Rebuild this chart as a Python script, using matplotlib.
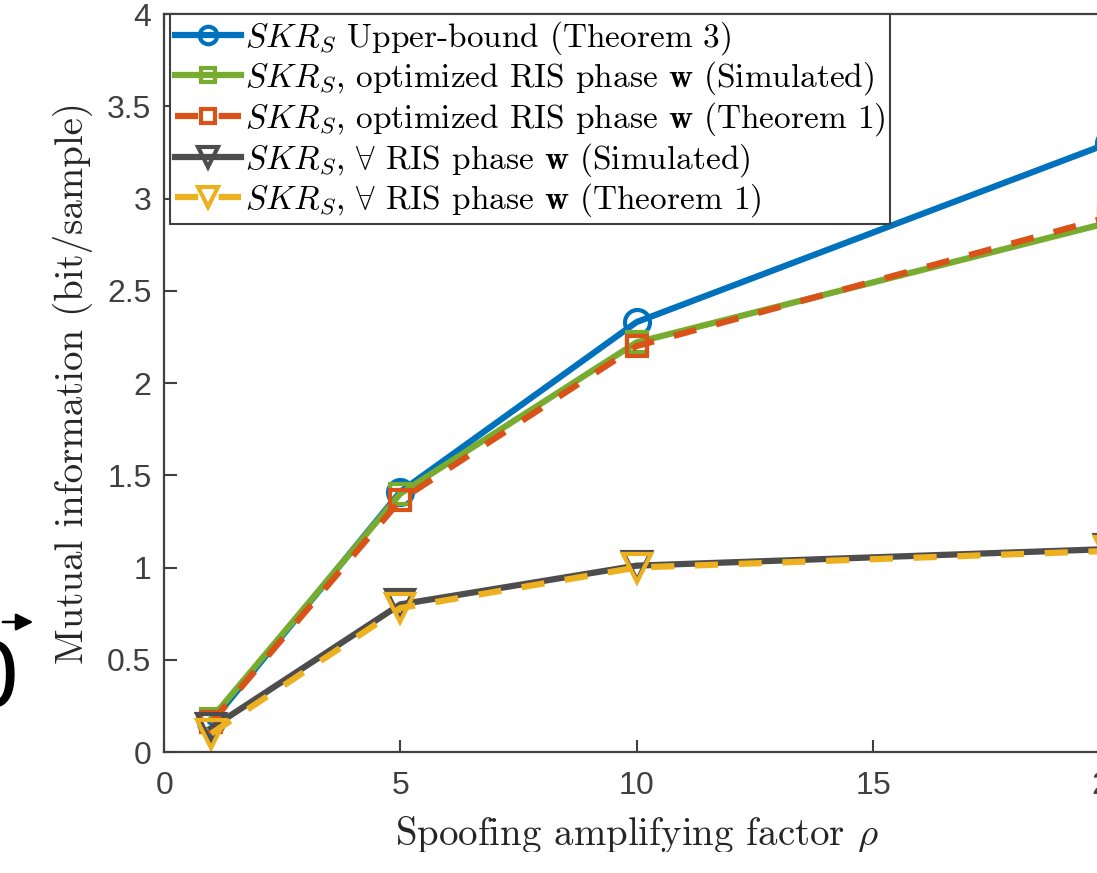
import numpy as np
import matplotlib
matplotlib.use('Agg')
import matplotlib.pyplot as plt

plt.rcParams['mathtext.fontset'] = 'cm'
plt.rcParams['axes.formatter.use_mathtext'] = True

# data
rho = [1, 5, 10, 20]
upper_thm3 = [0.16, 1.41, 2.33, 3.30]
opt_sim = [0.18, 1.40, 2.22, 2.87]
opt_thm1 = [0.16, 1.365, 2.20, 2.90]
any_sim = [0.13, 0.80, 1.01, 1.10]
any_thm1 = [0.10, 0.78, 1.00, 1.09]

labels = [r'$SKR_S$ Upper-bound (Theorem 3)',
          r'$SKR_S$, optimized RIS phase $\mathbf{w}$ (Simulated)',
          r'$SKR_S$, optimized RIS phase $\mathbf{w}$ (Theorem 1)',
          r'$SKR_S$, $\forall$ RIS phase $\mathbf{w}$ (Simulated)',
          r'$SKR_S$, $\forall$ RIS phase $\mathbf{w}$ (Theorem 1)']

c_blue = '#0072BD'
c_green = '#77AC30'
c_red = '#D95319'
c_dark = '#4D4D4D'
c_yel = '#EDB120'
axc = '#404040'

fig = plt.figure(figsize=(10.97, 8.73), dpi=100)
ax = fig.add_axes([164/1097, 1-752/873, (1109-164)/1097, (752-14)/873])

lw = 4.5
ms = 17
mew = 3
ax.plot(rho, upper_thm3, '-o', color=c_blue, lw=lw, ms=ms+1, mew=mew, mfc='none', label=labels[0])
ax.plot(rho, opt_sim, '-s', color=c_green, lw=lw, ms=ms-2, mew=mew, mfc='none', label=labels[1])
ax.plot(rho, opt_thm1, '--s', color=c_red, lw=lw, ms=ms-2, mew=mew, mfc='none', dashes=(3.7, 3.3),
        dash_capstyle='butt', label=labels[2])
ax.plot(rho, any_sim, '-v', color=c_dark, lw=lw, ms=ms+3, mew=mew, mfc='none', label=labels[3])
ax.plot(rho, any_thm1, '--v', color=c_yel, lw=lw, ms=ms+3, mew=mew, mfc='none', dashes=(3.7, 3.3),
        dash_capstyle='butt', label=labels[4])

ax.set_xlim(0, 20)
ax.set_ylim(0, 4)
ax.set_xticks([0, 5, 10, 15, 20])
ax.set_yticks(np.arange(0, 4.01, 0.5))
ax.set_yticklabels(['0', '0.5', '1', '1.5', '2', '2.5', '3', '3.5', '4'])
for lab in ax.get_xticklabels() + ax.get_yticklabels():
    lab.set_family('Liberation Sans')
ax.tick_params(direction='in', length=9, width=1.5, colors=axc, labelsize=23,
               top=True, right=True, pad=9)
ax.tick_params(axis='x', pad=14)
for s in ax.spines.values():
    s.set_color(axc)
    s.set_linewidth(1.6)

ax.set_xlabel(r'Spoofing amplifying factor $\rho$', family='cmr10', fontsize=28, color='#262626', labelpad=9)
ax.set_ylabel('Mutual information (bit/sample)', family='cmr10', fontsize=28, color='#262626', labelpad=10)

leg = ax.legend(loc='upper left', bbox_to_anchor=(0.006, 1.0), prop={'family': 'cmr10', 'size': 24},
                frameon=True, fancybox=False, edgecolor=axc, framealpha=1, borderaxespad=0,
                handlelength=2.0, handletextpad=0.1, labelspacing=0.08, borderpad=0.15, markerscale=0.7)
leg.get_frame().set_linewidth(1.5)

# bits of the neighbouring figure cut at the left edge
fig.add_artist(matplotlib.patches.FancyArrowPatch((0, 1-622/873), (36/1097, 1-622/873),
               transform=fig.transFigure, arrowstyle='-|>', mutation_scale=26, lw=1.8, color='k'))
fig.text(-0.034, 1-682/873, '0', fontsize=64, family='DejaVu Sans', va='center', ha='left')

# the source image is cut just under the x label baseline
fig.add_artist(matplotlib.patches.Rectangle((0, 0), 1, 21/873, transform=fig.transFigure,
               facecolor='white', edgecolor='none', zorder=10))

fig.savefig('out.png', dpi=100)
